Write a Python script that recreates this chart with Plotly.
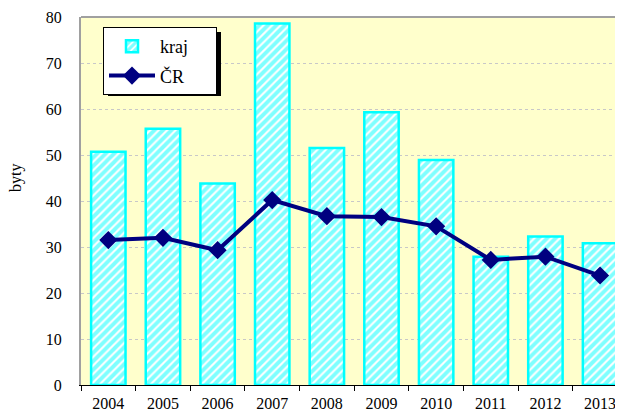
import plotly.graph_objects as go

years = ["2004", "2005", "2006", "2007", "2008", "2009", "2010", "2011", "2012", "2013"]
kraj = [50.7, 55.7, 43.8, 78.6, 51.5, 59.3, 48.9, 27.9, 32.3, 30.8]
cr = [31.5, 32.0, 29.3, 40.2, 36.7, 36.5, 34.5, 27.2, 27.9, 23.8]
y_ticks = [0, 10, 20, 30, 40, 50, 60, 70, 80]

# page has an 8px body margin; figure placed so the plot area sits at page px 81..623 x 17..385
OFF = 8
W, H = 623 - OFF, 416 - OFF
L, R, T, B = 81 - OFF, 0, 17 - OFF, 31

SERIF = "Liberation Serif, Times New Roman, serif"
PAD = "\u00a0" * 5

fig = go.Figure()
fig.add_trace(go.Bar(
    x=years, y=kraj, name="kraj" + PAD, legendgroup="a",
    marker=dict(color="white",
                line=dict(color="#00FFFF", width=2.5),
                pattern=dict(shape="/", fgcolor="#00FFFF", bgcolor="white",
                             size=6, solidity=0.65)),
))
fig.add_trace(go.Scatter(
    x=years, y=cr, name="ČR", mode="lines+markers", legendgroup="b",
    line=dict(color="#000080", width=4),
    marker=dict(symbol="diamond", size=14, color="#000080"),
))

pw = W - L - R
ph = H - T - B
def px(x):
    return (x - OFF - L) / pw
def py(y):
    return (H - B - (y - OFF)) / ph

fig.update_layout(
    width=W, height=H,
    margin=dict(l=L, r=R, t=T, b=B, autoexpand=False),
    paper_bgcolor="white",
    plot_bgcolor="#FFFFCC",
    bargap=0.37,
    font=dict(family=SERIF, size=16, color="black"),
    showlegend=True,
    legend=dict(x=px(103), y=py(27), xanchor="left", yanchor="top",
                bgcolor="white", bordercolor="black", borderwidth=1,
                font=dict(family=SERIF, size=18), itemwidth=46, tracegroupgap=3),
    shapes=[
        dict(type="rect", xref="paper", yref="paper",
             x0=px(108), x1=px(221), y0=py(96), y1=py(32),
             fillcolor="black", line=dict(width=0), layer="above"),
        dict(type="line", xref="paper", yref="paper",
             x0=0, x1=1, y0=1, y1=1, line=dict(color="#A0A0A0", width=2),
             layer="above"),
    ],
    annotations=[
        dict(text="byty", xref="paper", yref="paper", x=px(16), y=py(178),
             xanchor="center", yanchor="middle", textangle=-90, showarrow=False,
             font=dict(family=SERIF, size=16)),
    ],
)
fig.update_xaxes(
    range=[-0.5, 9.42],
    showline=True, linecolor="black", linewidth=1,
    ticks="outside", tickson="boundaries", ticklen=5, tickcolor="black",
    tickfont=dict(family=SERIF, size=16), showgrid=False, ticklabelstandoff=4,
)
fig.update_yaxes(
    range=[0, 80], tickvals=y_ticks,
    showline=True, linecolor="#A0A0A0", linewidth=2,
    showgrid=True, gridcolor="#C8C8C8", griddash="dot", gridwidth=1,
    ticks="", ticklabelstandoff=14, tickfont=dict(family=SERIF, size=16),
    zeroline=False,
)

fig.write_html("out.html")
